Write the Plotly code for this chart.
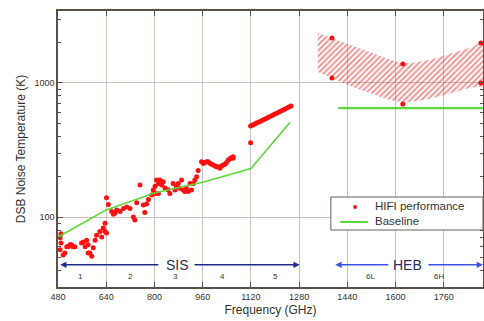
import math
import plotly.graph_objects as go

# ---------------- data ----------------
sis_freq = [487, 490, 487, 490, 497, 503, 509, 514, 520, 525, 530, 536, 558, 564, 570, 575, 580, 580,
            586, 592, 597, 603, 608, 619, 625, 630, 636, 636, 641, 641,
            647, 658, 664, 669, 675, 686, 697, 708, 719, 730, 735, 741, 752, 763, 768, 774, 780, 791, 796,
            802, 802, 807, 813, 813, 818, 824, 829, 835, 845, 851, 862, 868, 873, 879, 884, 890, 895, 901,
            906, 912, 918, 923, 929, 934, 940, 945,
            956, 962, 967, 973, 978, 984, 990, 995, 1001, 1006, 1012, 1017, 1023, 1028, 1034, 1039, 1045,
            1050, 1056, 1061, 1061,
            1119, 1119, 1125, 1132, 1138, 1145, 1152, 1158, 1165, 1172, 1178, 1185, 1192, 1198, 1205,
            1212, 1218, 1225, 1232, 1239, 1246, 1253]
sis_temp = [70, 75, 57, 64, 52, 54, 60, 60, 62, 62, 60, 60, 64, 65, 60, 67, 62, 54,
            54, 51, 59, 67, 73, 78, 71, 83, 90, 78, 139, 76,
            124, 110, 105, 107, 113, 110, 116, 119, 116, 100, 95, 128, 173, 123, 108, 125, 135, 146, 159,
            150, 170, 189, 178, 150, 189, 173, 183, 165, 160, 150, 178, 159, 168, 178, 164, 189, 159, 155,
            165, 155, 178, 159, 178, 189, 200, 222,
            258, 251, 255, 258, 258, 252, 248, 244, 240, 237, 237, 231, 240, 244, 248, 255, 266,
            272, 278, 282, 274,
            358, 477, 485, 493, 502, 510, 519, 527, 536, 545, 555, 565, 575, 585, 595,
            605, 616, 627, 638, 650, 661, 673]

heb_freq = [1389, 1389, 1624, 1624, 1883, 1883]
heb_temp = [2170, 1090, 1386, 697, 1990, 1000]

band_upper_freq = [1342, 1389, 1450, 1515, 1570, 1624, 1680, 1737, 1800, 1850, 1890]
band_upper_temp = [2360, 2170, 1920, 1700, 1530, 1410, 1440, 1540, 1700, 1850, 1990]
band_lower_freq = [1342, 1389, 1450, 1515, 1570, 1624, 1680, 1737, 1800, 1850, 1890]
band_lower_temp = [1208, 1090, 950, 841, 760, 721, 740, 787, 860, 920, 966]

base_sis_freq = [480, 640, 800, 960, 1120, 1250]
base_sis_temp = [71, 113, 151, 182, 230, 510]
base_heb_freq = [1410, 1890]
base_heb_temp = [650, 650]

x_ticks = [480, 640, 800, 960, 1120, 1280, 1440, 1600, 1760]
y_ticks = [100, 1000]
y_minor = [40, 50, 60, 70, 80, 90, 200, 300, 400, 500, 600, 700, 800, 900, 2000, 3000]

band_labels = ["1", "2", "3", "4", "5", "6L", "6H"]
band_label_freq = [553, 719, 871, 1027, 1200, 1518, 1743]

mixer_names = ["SIS", "HEB"]
mixer_span = [(487, 1282), (1400, 1890)]
mixer_label_freq = [875, 1641]
mixer_gap = [(818, 928), (1581, 1704)]
arrow_level = 44
band_label_level = 36

legend_names = ["HIFI performance", "Baseline"]

RED = "#ff1010"
GREEN = "#5cd83a"

# ---------------- figure ----------------
fig = go.Figure()

# hatched HEB band
fig.add_trace(go.Scatter(
    x=band_upper_freq + band_lower_freq[::-1],
    y=band_upper_temp + band_lower_temp[::-1],
    mode="lines", line=dict(width=0, shape="spline", color="rgba(0,0,0,0)"),
    fill="toself", fillcolor="rgba(0,0,0,0)",
    fillpattern=dict(shape="/", fgcolor="#e03030", bgcolor="rgba(255,255,255,0)", size=4, solidity=0.5),
    showlegend=False, hoverinfo="skip"))

fig.add_trace(go.Scatter(x=sis_freq, y=sis_temp, mode="markers",
                         marker=dict(color=RED, size=5, line=dict(width=0)),
                         name=legend_names[0], showlegend=False))
fig.add_trace(go.Scatter(x=heb_freq, y=heb_temp, mode="markers",
                         marker=dict(color=RED, size=5, line=dict(width=0)),
                         name=legend_names[0], showlegend=False))
fig.add_trace(go.Scatter(x=base_sis_freq, y=base_sis_temp, mode="lines",
                         line=dict(color=GREEN, width=1.6), name=legend_names[1], showlegend=False))
fig.add_trace(go.Scatter(x=base_heb_freq, y=base_heb_temp, mode="lines",
                         line=dict(color=GREEN, width=2.2), name=legend_names[1], showlegend=False))

annotations = []
colors = ["#1f2a8a", "#3a55e0"]
for name, (a, b), lf, (g1, g2), col in zip(mixer_names, mixer_span, mixer_label_freq, mixer_gap, colors):
    ly = math.log10(arrow_level)
    annotations.append(dict(x=a, y=ly, ax=g1, ay=ly, xref="x", yref="y", axref="x", ayref="y",
                            text="", showarrow=True, arrowhead=2, arrowsize=0.9, arrowwidth=1.4,
                            arrowcolor=col, standoff=0))
    annotations.append(dict(x=b, y=ly, ax=g2, ay=ly, xref="x", yref="y", axref="x", ayref="y",
                            text="", showarrow=True, arrowhead=2, arrowsize=0.9, arrowwidth=1.4,
                            arrowcolor=col, standoff=0))
    annotations.append(dict(x=lf, y=ly, xref="x", yref="y", text=name, showarrow=False,
                            font=dict(size=14, color="#2a2f5a")))
for lab, f in zip(band_labels, band_label_freq):
    annotations.append(dict(x=f, y=math.log10(band_label_level), xref="x", yref="y", text=lab,
                            showarrow=False, font=dict(size=8, color="#333333")))

# legend box (drawn in plot-area fractions)
shapes = [
    dict(type="rect", xref="paper", yref="paper", x0=0.642, x1=1.0, y0=0.2065, y1=0.326,
         fillcolor="white", line=dict(color="#6a6058", width=1), layer="above"),
    dict(type="line", xref="paper", yref="paper", x0=0.664, x1=0.729, y0=0.2355, y1=0.2355,
         line=dict(color=GREEN, width=2), layer="above"),
    dict(type="circle", xref="paper", yref="paper", x0=0.699 - 0.0045, x1=0.699 + 0.0045,
         y0=0.290 - 0.007, y1=0.290 + 0.007, fillcolor=RED, line=dict(width=0), layer="above"),
]
annotations.append(dict(x=0.741, y=0.292, xref="paper", yref="paper", text=legend_names[0],
                        showarrow=False, xanchor="left", yanchor="middle",
                        font=dict(size=11.5, color="#333333")))
annotations.append(dict(x=0.741, y=0.2375, xref="paper", yref="paper", text=legend_names[1],
                        showarrow=False, xanchor="left", yanchor="middle",
                        font=dict(size=11.5, color="#333333")))

fig.update_layout(
    width=484, height=321,
    margin=dict(l=58, r=1, t=11, b=34, autoexpand=False),
    paper_bgcolor="white", plot_bgcolor="white",
    font=dict(family="Liberation Sans, Arial, sans-serif", size=10, color="#333333"),
    annotations=annotations, shapes=shapes, showlegend=False,
)
fig.update_xaxes(
    range=[480, 1890], tickvals=x_ticks, ticks="inside", ticklen=5, tickcolor="#5a5048",
    showline=True, linecolor="#5a5048", linewidth=1.5, mirror="ticks",
    showgrid=True, gridcolor="#cbc3ba", gridwidth=1, zeroline=False, automargin=False,
    title=dict(text="Frequency (GHz)", font=dict(size=12), standoff=5),
    tickfont=dict(size=9),
)
fig.update_yaxes(
    type="log", range=[1.478, 3.537], tickvals=y_ticks, ticktext=["100", "1000"],
    ticks="inside", ticklen=5, tickcolor="#5a5048",
    minor=dict(tickvals=y_minor, ticks="inside", ticklen=3, tickcolor="#5a5048", showgrid=False),
    showline=True, linecolor="#5a5048", linewidth=1.5, mirror="ticks",
    showgrid=True, gridcolor="#cbc3ba", gridwidth=1, zeroline=False, automargin=False,
    title=dict(text="DSB Noise Temperature (K)", font=dict(size=12), standoff=6),
    tickfont=dict(size=9),
)

fig.write_html("out.html", config={"displayModeBar": False},
               post_script="document.body.style.margin='0';document.body.style.overflow='hidden';")
